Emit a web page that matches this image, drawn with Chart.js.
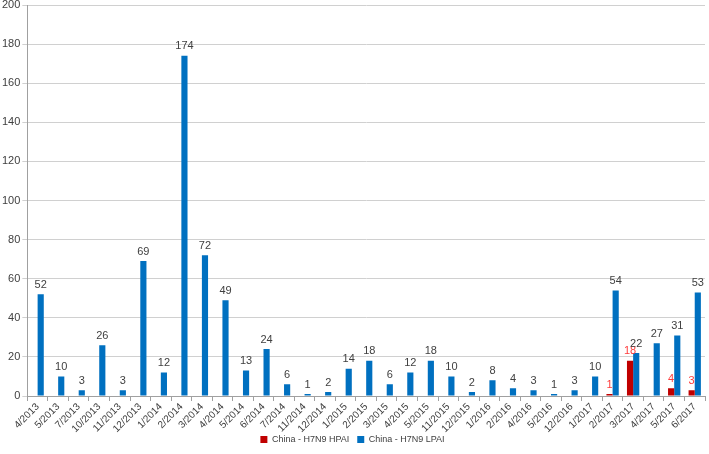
<!DOCTYPE html>
<html><head><meta charset="utf-8">
<script src="https://cdn.jsdelivr.net/npm/chart.js@4/dist/chart.umd.min.js"></script>
<style>html,body{margin:0;padding:0;background:#fff}#wrap{width:709px;height:454px}</style>
</head><body><div id="wrap"><canvas id="c"></canvas></div>
<script>
const categories = ["4/2013","5/2013","7/2013","10/2013","11/2013","12/2013","1/2014","2/2014","3/2014","4/2014","5/2014","6/2014","7/2014","11/2014","12/2014","1/2015","2/2015","3/2015","4/2015","5/2015","11/2015","12/2015","1/2016","2/2016","4/2016","5/2016","12/2016","1/2017","2/2017","3/2017","4/2017","5/2017","6/2017"];
const hpai = [null,null,null,null,null,null,null,null,null,null,null,null,null,null,null,null,null,null,null,null,null,null,null,null,null,null,null,null,1,18,null,4,3];
const lpai = [52,10,3,26,3,69,12,174,72,49,13,24,6,1,2,14,18,6,12,18,10,2,8,4,3,1,3,10,54,22,27,31,53];
const yTicks = [0,20,40,60,80,100,120,140,160,180,200];

const FONT = '"Liberation Sans", Arial, sans-serif';
const labelPlugin = {
  id: 'vlabels',
  afterDatasetsDraw(chart) {
    const ctx = chart.ctx;
    ctx.save();
    ctx.font = '11px ' + FONT;
    ctx.textAlign = 'center';
    ctx.textBaseline = 'bottom';
    chart.data.datasets.forEach((ds, i) => {
      const meta = chart.getDatasetMeta(i);
      ctx.fillStyle = ds.labelColor;
      meta.data.forEach((el, j) => {
        const v = ds.data[j];
        if (v === null || v === undefined) return;
        ctx.fillText(String(v), el.x, el.y - 4);
      });
    });
    ctx.restore();
  }
};

new Chart(document.getElementById('c'), {
  type: 'bar',
  data: {
    labels: categories,
    datasets: [
      { label: 'China - H7N9 HPAI', data: hpai, backgroundColor: '#C00000', labelColor: '#FF3B3B',
        barPercentage: 1.0, categoryPercentage: 0.6 },
      { label: 'China - H7N9 LPAI', data: lpai, backgroundColor: '#0070C0', labelColor: '#404040',
        barPercentage: 1.0, categoryPercentage: 0.6 }
    ]
  },
  options: {
    responsive: true,
    maintainAspectRatio: false,
    animation: false,
    layout: { padding: { top: 5, left: 0, right: 4, bottom: 0 } },
    plugins: {
      legend: {
        position: 'bottom',
        labels: { boxWidth: 7, boxHeight: 7, padding: 8, color: '#404040',
          font: { size: 9, family: FONT } }
      },
      tooltip: { enabled: false }
    },
    scales: {
      x: {
        afterFit(axis) {
          axis.height = 31;
          axis._computeLabelArea = function () { return undefined; };
        },
        grid: { display: true, drawOnChartArea: false, tickLength: 5, color: '#A0A0A0', offset: true },
        border: { color: '#A0A0A0' },
        ticks: { maxRotation: 45, minRotation: 45, autoSkip: false, color: '#404040',
          font: { size: 10, family: FONT }, padding: 0 }
      },
      y: {
        min: 0, max: 200,
        afterBuildTicks(axis) { axis.ticks = yTicks.map(v => ({ value: v })); },
        afterFit(axis) { axis.paddingTop = 0; },
        grid: { color: '#D0D0D0', tickLength: 5 },
        border: { color: '#A0A0A0' },
        ticks: { color: '#404040', font: { size: 11, family: FONT }, padding: 2 }
      }
    }
  },
  plugins: [labelPlugin]
});
</script></body></html>
